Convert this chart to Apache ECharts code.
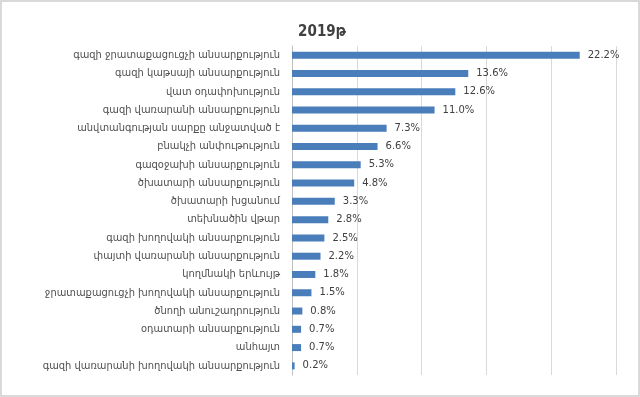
<!DOCTYPE html>
<html>
<head>
<meta charset="utf-8">
<script src="https://cdn.jsdelivr.net/npm/echarts@6/dist/echarts.min.js"></script>
<style>
html,body{margin:0;padding:0;background:#fff;}
#frame{position:absolute;left:0;top:0;width:636px;height:393px;border:2px solid #d9d9d9;}
#chart{position:absolute;left:0;top:0;width:640px;height:397px;}
</style>
</head>
<body>
<div id="frame"></div>
<div id="chart"></div>
<script>
const categories = [
  "գազի ջրատաքացուցչի անսարքություն",
  "գազի կաթսայի անսարքություն",
  "վատ օդափոխություն",
  "գազի վառարանի անսարքություն",
  "անվտանգության սարքը անջատված է",
  "բնակչի անփութություն",
  "գազօջախի անսարքություն",
  "ծխատարի անսարքություն",
  "ծխատարի խցանում",
  "տեխնածին վթար",
  "գազի խողովակի անսարքություն",
  "փայտի վառարանի անսարքություն",
  "կողմնակի երևույթ",
  "ջրատաքացուցչի խողովակի անսարքություն",
  "ծնողի անուշադրություն",
  "օդատարի անսարքություն",
  "անհայտ",
  "գազի վառարանի խողովակի անսարքություն"
];
const values = [22.2, 13.6, 12.6, 11.0, 7.3, 6.6, 5.3, 4.8, 3.3, 2.8, 2.5, 2.2, 1.8, 1.5, 0.8, 0.7, 0.7, 0.2];
const titleText = "2019թ";

const chart = echarts.init(document.getElementById('chart'), null, {renderer:'canvas'});
chart.setOption({
  animation:false,
  backgroundColor:'transparent',
  title:{
    text:titleText, left:317, top:20, textAlign:'center',
    textStyle:{fontFamily:'DejaVu Sans Condensed, DejaVu Sans', fontSize:15, fontWeight:'bold', color:'#404040'}
  },
  grid:{left:292, right:24, top:46, bottom:22, containLabel:false},
  xAxis:{
    type:'value', min:0, max:25, interval:5,
    axisLabel:{show:false}, axisLine:{show:false}, axisTick:{show:false},
    splitLine:{show:true, lineStyle:{color:'#d9d9d9', width:1}}
  },
  yAxis:{
    type:'category', data:categories, inverse:true,
    axisTick:{show:false},
    axisLine:{show:true, lineStyle:{color:'#bfbfbf'}},
    axisLabel:{fontFamily:'DejaVu Sans Condensed, DejaVu Sans', fontSize:11, color:'#505050', margin:12}
  },
  series:[{
    type:'bar', data:values, barWidth:7,
    itemStyle:{color:'#4a7ebb'},
    label:{show:true, position:'right', distance:8, formatter:p=>p.value.toFixed(1)+'%',
      fontFamily:'DejaVu Sans', fontSize:10, color:'#404040'}
  }]
});
</script>
</body>
</html>
